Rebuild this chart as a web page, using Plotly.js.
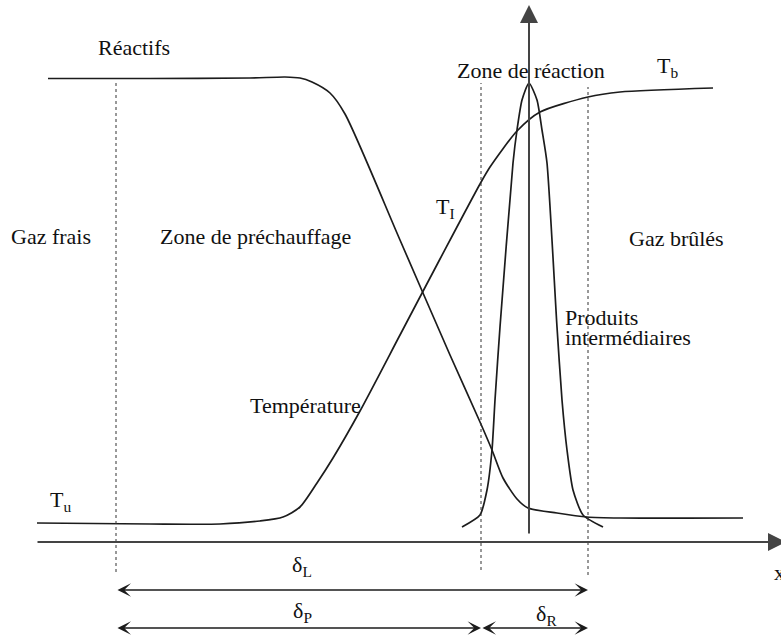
<!DOCTYPE html>
<html>
<head>
<meta charset="utf-8">
<script src="https://cdn.plot.ly/plotly-3.0.1.min.js"></script>
<style>
html,body{margin:0;padding:0;background:#fff;}
#chart{width:781px;height:641px;}
</style>
</head>
<body>
<div id="chart"></div>
<script>
// Position along the flame (x) and height of each profile above the x axis
var reactX = [48, 150, 250, 285, 300, 312, 330, 345, 400, 450, 480, 492, 503, 517, 528, 557, 587, 620, 743];
var reactY = [463.5, 463.5, 464, 465, 464, 460, 449, 428, 302, 187, 120, 92, 64, 43, 34, 29, 25, 24, 24];

var tempX = [37, 150, 220, 260, 283, 300, 317, 333, 360, 400, 440, 480, 490, 517, 540, 588, 620, 713];
var tempY = [19, 18, 18, 21, 25, 35, 59, 84, 131, 207, 283, 358, 375, 411, 430, 445, 450, 454];

var interX = [462, 480, 487, 492, 495, 500, 513, 517, 522, 529, 537, 542, 547, 557, 562, 567, 573, 583, 603];
var interY = [15, 27, 52, 92, 142, 215, 379, 412, 442, 459, 442, 412, 379, 215, 142, 92, 52, 27, 15];

// Zone boundaries: start of preheat zone, start of reaction zone, end of reaction zone
var zoneBounds = [116, 481, 588];
var zoneTop = [462, 459, 455];
var zoneBottom = [-30, -28, -33];

// Thickness labels
var deltaLabels = ['δ<sub>L</sub>', 'δ<sub>P</sub>', 'δ<sub>R</sub>'];

var FAMILY = 'Liberation Serif';
var FSIZE = 22;
var lineCol = '#1c1c1c';

var traces = [
  {x: reactX, y: reactY, mode: 'lines', line: {color: lineCol, width: 1.7, shape: 'spline', smoothing: 0.7}, hoverinfo: 'skip'},
  {x: tempX, y: tempY, mode: 'lines', line: {color: lineCol, width: 1.7, shape: 'spline', smoothing: 0.7}, hoverinfo: 'skip'},
  {x: interX, y: interY, mode: 'lines', line: {color: lineCol, width: 1.7, shape: 'spline', smoothing: 0.6}, hoverinfo: 'skip'}
];

var shapes = [];
for (var i = 0; i < zoneBounds.length; i++) {
  shapes.push({type: 'line', xref: 'x', yref: 'y', x0: zoneBounds[i], x1: zoneBounds[i], y0: zoneBottom[i], y1: zoneTop[i],
    line: {color: '#333', width: 1, dash: 'dot'}});
}

function txt(x, y, t, opts) {
  var a = {x: x, y: y, xref: 'x', yref: 'y', text: t, showarrow: false,
    font: {family: FAMILY, size: FSIZE, color: '#111'}, xanchor: 'center', yanchor: 'middle'};
  if (opts) for (var k in opts) a[k] = opts[k];
  return a;
}
function arrow(x0, y0, x1, y1, head, w, size, both, col) {
  return {x: x1, y: y1, ax: x0, ay: y0, xref: 'x', yref: 'y', axref: 'x', ayref: 'y', text: '', showarrow: true,
    arrowhead: head, startarrowhead: head, arrowside: both ? 'end+start' : 'end', arrowwidth: w, arrowsize: size,
    startarrowsize: size, arrowcolor: col || '#1c1c1c', standoff: 0, startstandoff: 0};
}

var annotations = [
  // axes
  arrow(36, 0, 786, 0, 2, 2, 1.8, false, '#444'),
  arrow(529, 7, 529, 537, 2, 2, 1.8, false, '#444'),
  // thickness arrows
  arrow(zoneBounds[0], -48, zoneBounds[2], -48, 3, 1.5, 1.5, true),
  arrow(zoneBounds[0], -86, zoneBounds[1], -86, 3, 1.5, 1.5, true),
  arrow(zoneBounds[1], -86, zoneBounds[2], -86, 3, 1.5, 1.5, true),
  // labels
  txt(134, 495, 'Réactifs'),
  txt(51, 306, 'Gaz frais'),
  txt(255, 306, 'Zone de préchauffage'),
  txt(531, 472, 'Zone de réaction'),
  txt(667, 475, 'T<sub>b</sub>'),
  txt(445, 334, 'T<sub>I</sub>'),
  txt(676, 304, 'Gaz brûlés'),
  txt(563, 225, 'Produits', {xanchor: 'left'}),
  txt(563, 205, 'intermédiaires', {xanchor: 'left'}),
  txt(305, 137, 'Température'),
  txt(60, 41, 'T<sub>u</sub>'),
  txt(302, -24, deltaLabels[0]),
  txt(302, -70, deltaLabels[1]),
  txt(546, -73, deltaLabels[2]),
  txt(779, -30, 'x')
];

var layout = {
  width: 781, height: 641,
  margin: {l: 0, r: 0, t: 0, b: 0},
  paper_bgcolor: '#fff', plot_bgcolor: '#fff',
  font: {family: FAMILY, size: FSIZE, color: '#111'},
  showlegend: false,
  xaxis: {range: [0, 781], visible: false, fixedrange: true},
  yaxis: {range: [-99, 542], visible: false, fixedrange: true},
  shapes: shapes,
  annotations: annotations
};

Plotly.newPlot('chart', traces, layout, {staticPlot: true});
</script>
</body>
</html>
